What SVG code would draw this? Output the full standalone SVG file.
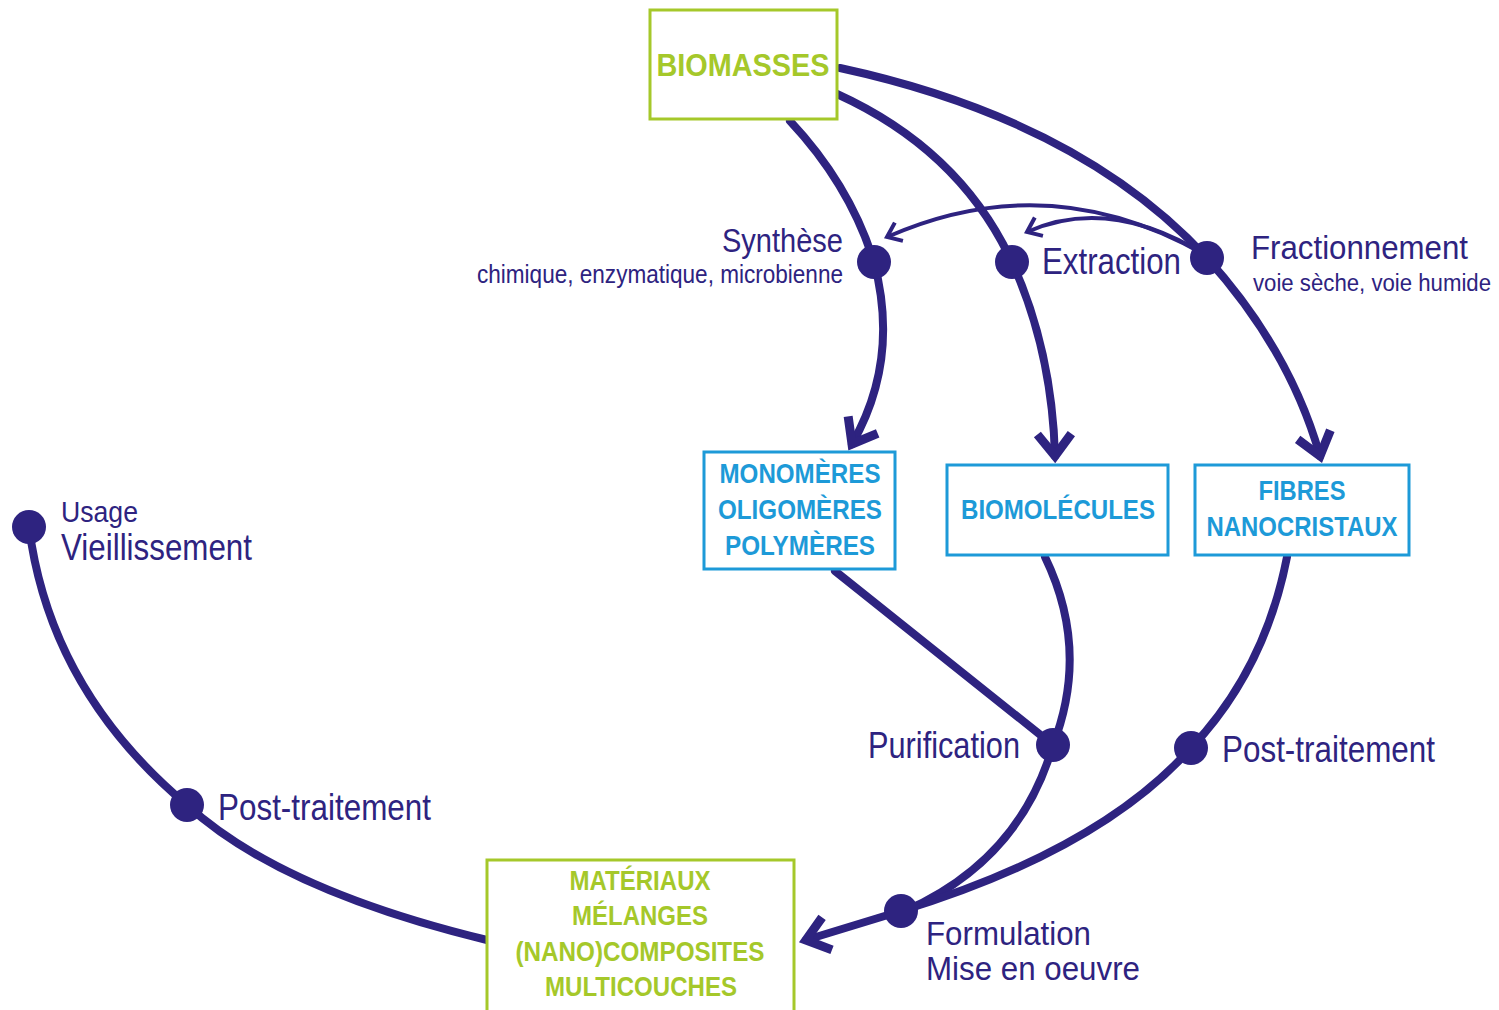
<svg xmlns="http://www.w3.org/2000/svg" width="1499" height="1010" viewBox="0 0 1499 1010">
<style>
.lbl{font-family:"Liberation Sans",Arial,sans-serif;fill:#2e2380}
.gbox{fill:#fff;stroke:#a5c82a;stroke-width:3}
.bbox{fill:#fff;stroke:#1d9ad8;stroke-width:3}
.gt{font-family:"Liberation Sans",Arial,sans-serif;font-weight:bold;fill:#a5c82a;text-anchor:middle}
.bt{font-family:"Liberation Sans",Arial,sans-serif;font-weight:bold;fill:#1d9ad8;text-anchor:middle}
.c{fill:none;stroke:#2e2380;stroke-width:8;stroke-linecap:round}
.t{fill:none;stroke:#2e2380;stroke-width:4}
.dot{fill:#2e2380}
</style>
<defs>
<marker id="big" markerUnits="userSpaceOnUse" markerWidth="50" markerHeight="50" viewBox="-35 -25 50 50" refX="0" refY="0" orient="auto">
<path d="M-22,-17 L0,0 L-22,17" fill="none" stroke="#2e2380" stroke-width="9" stroke-linejoin="miter"/>
</marker>
<marker id="small" markerUnits="userSpaceOnUse" markerWidth="30" markerHeight="30" viewBox="-20 -15 30 30" refX="0" refY="0" orient="auto">
<path d="M-13,-10 L0,0 L-13,10" fill="none" stroke="#2e2380" stroke-width="4"/>
</marker>
</defs>
<g id="connectors">
<path class="c" d="M790,121 Q850,185 874,262 Q900,360 852,444" marker-end="url(#big)"/>
<path class="c" d="M837,94 Q960,150 1012,262 Q1052,350 1055,456" marker-end="url(#big)"/>
<path class="c" d="M840,68 Q1080,120 1207,258 Q1290,350 1320,456" marker-end="url(#big)"/>
<path class="t" d="M1207,256 Q1050,165 887,237" marker-end="url(#small)"/>
<path class="t" d="M1207,256 Q1110,195 1027,232" marker-end="url(#small)"/>
<path class="c" d="M835,571 L1053,745"/>
<path class="c" d="M1045,557 Q1090,650 1053,745 Q1020,860 905,911"/>
<path class="c" d="M1287,557 Q1265,670 1191,748 Q1100,850 901,911 L806,940" marker-end="url(#big)"/>
<path class="c" d="M487,940 Q280,890 187,805 Q50,690 29,527"/>
</g>
<g id="node-biomasses">
<rect class="gbox" x="650" y="10" width="187" height="109"/>
<text class="gt" x="743" y="76" font-size="31" textLength="173" lengthAdjust="spacingAndGlyphs">BIOMASSES</text>
</g>
<g id="node-monomeres">
<rect class="bbox" x="704" y="452" width="191" height="117"/>
<text class="bt" x="800" y="483" font-size="28" textLength="161" lengthAdjust="spacingAndGlyphs">MONOMÈRES</text>
<text class="bt" x="800" y="519" font-size="28" textLength="164" lengthAdjust="spacingAndGlyphs">OLIGOMÈRES</text>
<text class="bt" x="800" y="555" font-size="28" textLength="150" lengthAdjust="spacingAndGlyphs">POLYMÈRES</text>
</g>
<g id="node-biomolecules">
<rect class="bbox" x="947" y="465" width="221" height="90"/>
<text class="bt" x="1058" y="519" font-size="28" textLength="194" lengthAdjust="spacingAndGlyphs">BIOMOLÉCULES</text>
</g>
<g id="node-fibres">
<rect class="bbox" x="1195" y="465" width="214" height="90"/>
<text class="bt" x="1302" y="500" font-size="28" textLength="87" lengthAdjust="spacingAndGlyphs">FIBRES</text>
<text class="bt" x="1302" y="536" font-size="28" textLength="191" lengthAdjust="spacingAndGlyphs">NANOCRISTAUX</text>
</g>
<g id="node-materiaux">
<rect class="gbox" x="487" y="860" width="307" height="160"/>
<text class="gt" x="640" y="890" font-size="27" textLength="141" lengthAdjust="spacingAndGlyphs">MATÉRIAUX</text>
<text class="gt" x="640" y="925" font-size="27" textLength="136" lengthAdjust="spacingAndGlyphs">MÉLANGES</text>
<text class="gt" x="640" y="961" font-size="27" textLength="249" lengthAdjust="spacingAndGlyphs">(NANO)COMPOSITES</text>
<text class="gt" x="641" y="996" font-size="27" textLength="192" lengthAdjust="spacingAndGlyphs">MULTICOUCHES</text>
</g>
<g id="node-synthese">
<circle class="dot" cx="874" cy="262" r="17"/>
<text class="lbl" x="722" y="252" font-size="34" textLength="121" lengthAdjust="spacingAndGlyphs">Synthèse</text>
<text class="lbl" x="477" y="283" font-size="25" textLength="366" lengthAdjust="spacingAndGlyphs">chimique, enzymatique, microbienne</text>
</g>
<g id="node-extraction">
<circle class="dot" cx="1012" cy="262" r="17"/>
<text class="lbl" x="1042" y="274" font-size="37" textLength="139" lengthAdjust="spacingAndGlyphs">Extraction</text>
</g>
<g id="node-fractionnement">
<circle class="dot" cx="1207" cy="258" r="17"/>
<text class="lbl" x="1251" y="259" font-size="34" textLength="217" lengthAdjust="spacingAndGlyphs">Fractionnement</text>
<text class="lbl" x="1253" y="291" font-size="23" textLength="238" lengthAdjust="spacingAndGlyphs">voie sèche, voie humide</text>
</g>
<g id="node-purification">
<circle class="dot" cx="1053" cy="745" r="17"/>
<text class="lbl" x="868" y="758" font-size="37" textLength="152" lengthAdjust="spacingAndGlyphs">Purification</text>
</g>
<g id="node-posttraitement-right">
<circle class="dot" cx="1191" cy="748" r="17"/>
<text class="lbl" x="1222" y="762" font-size="37" textLength="213" lengthAdjust="spacingAndGlyphs">Post-traitement</text>
</g>
<g id="node-formulation">
<circle class="dot" cx="901" cy="911" r="17"/>
<text class="lbl" x="926" y="945" font-size="33" textLength="165" lengthAdjust="spacingAndGlyphs">Formulation</text>
<text class="lbl" x="926" y="980" font-size="33" textLength="214" lengthAdjust="spacingAndGlyphs">Mise en oeuvre</text>
</g>
<g id="node-posttraitement-left">
<circle class="dot" cx="187" cy="805" r="17"/>
<text class="lbl" x="218" y="820" font-size="37" textLength="213" lengthAdjust="spacingAndGlyphs">Post-traitement</text>
</g>
<g id="node-usage">
<circle class="dot" cx="29" cy="527" r="17"/>
<text class="lbl" x="61" y="522" font-size="30" textLength="77" lengthAdjust="spacingAndGlyphs">Usage</text>
<text class="lbl" x="61" y="560" font-size="36" textLength="191" lengthAdjust="spacingAndGlyphs">Vieillissement</text>
</g>
</svg>
